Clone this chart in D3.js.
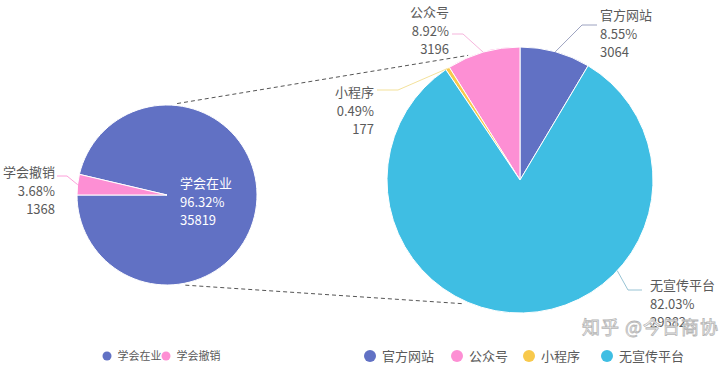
<!DOCTYPE html>
<html><head><meta charset="utf-8">
<script src="https://cdn.jsdelivr.net/npm/d3@7"></script>
<style>body{margin:0;background:#fff}svg{display:block}text{font-family:"Noto Sans CJK SC","Noto Sans",sans-serif}</style>
</head><body><svg id="c" width="720" height="365"></svg>
<script>
const leftCategories = ["学会在业", "学会撤销"];
const leftValues = [35819, 1368];
const leftPercents = ["96.32%", "3.68%"];
const rightCategories = ["官方网站", "公众号", "小程序", "无宣传平台"];
const rightValues = [3064, 3196, 177, 29382];
const rightPercents = ["8.55%", "8.92%", "0.49%", "82.03%"];
const rightDrawOrder = ["官方网站", "无宣传平台", "小程序", "公众号"];

const colors = {"学会在业":"#6171c4","学会撤销":"#fd8fd4","官方网站":"#6171c4","公众号":"#fd8fd4","小程序":"#f8c94c","无宣传平台":"#3fbee3"};
const textColor = "#5a5a5a";
const deg = Math.PI/180;
const svg = d3.select("#c");

// ---- left pie ----
const L = {cx:167, cy:195, r:90};
const lStart = -76.75*deg;
const lPie = d3.pie().sort(null).value(d=>d.v).startAngle(lStart).endAngle(lStart+2*Math.PI);
const lData = lPie(leftCategories.map((c,i)=>({c, v:leftValues[i], p:leftPercents[i]})));
const lArc = d3.arc().innerRadius(0).outerRadius(L.r);
const gL = svg.append("g").attr("transform",`translate(${L.cx},${L.cy})`);
gL.selectAll("path").data(lData).join("path").attr("d",lArc)
  .attr("fill",d=>colors[d.data.c]).attr("stroke","#fff").attr("stroke-width",1);

// ---- right pie ----
const R = {cx:520, cy:180, r:133};
const rPie = d3.pie().sort((a,b)=>rightDrawOrder.indexOf(a.c)-rightDrawOrder.indexOf(b.c)).value(d=>d.v);
const rData = rPie(rightCategories.map((c,i)=>({c, v:rightValues[i], p:rightPercents[i]})));
const rArc = d3.arc().innerRadius(0).outerRadius(R.r);
const gR = svg.append("g").attr("transform",`translate(${R.cx},${R.cy})`);
gR.selectAll("path").data(rData).join("path").attr("d",rArc)
  .attr("fill",d=>colors[d.data.c]).attr("stroke","#fff").attr("stroke-width",1);

// ---- connecting dashed lines ----
function pt(C, a, rr){ return [C.cx + rr*Math.sin(a), C.cy - rr*Math.cos(a)]; }
const conn = [[pt(L,6.3*deg,92), pt(R,-22.6*deg,135)], [pt(L,168.5*deg,92), pt(R,204.5*deg,136)]];
svg.selectAll("line.conn").data(conn).join("line").attr("class","conn")
  .attr("x1",d=>d[0][0]).attr("y1",d=>d[0][1]).attr("x2",d=>d[1][0]).attr("y2",d=>d[1][1])
  .attr("stroke","#555").attr("stroke-width",1).attr("stroke-dasharray","4,3");

// ---- labels ----
function mid(d){ return (d.startAngle+d.endAngle)/2; }
function drawLabel(C, d, elbow, endX, textX, anchor, baseY, color, angle){
  const s = pt(C, angle!==undefined ? angle : mid(d), C.r);
  svg.append("polyline").attr("points",[s, elbow, [endX, elbow[1]]].map(p=>p.join(",")).join(" "))
    .attr("fill","none").attr("stroke",color).attr("stroke-width",1).attr("opacity",0.85);
  const t = svg.append("text").attr("x",textX).attr("y",baseY).attr("text-anchor",anchor)
    .attr("font-size",13).attr("fill",textColor);
  [d.data.c, d.data.p, d.data.v].forEach((s,i)=>t.append("tspan").attr("x",textX).attr("dy",i?18.5:0).text(s));
}
const ld = Object.fromEntries(lData.map(d=>[d.data.c,d]));
const rd = Object.fromEntries(rData.map(d=>[d.data.c,d]));

drawLabel(L, ld["学会撤销"], [67,176], 57, 55, "end", 177, "#fd8fd4");
// inside label
(function(){
  const d = ld["学会在业"];
  const t = svg.append("text").attr("x",180).attr("y",188).attr("font-size",13).attr("fill","#fff");
  [d.data.c, d.data.p, d.data.v].forEach((s,i)=>t.append("tspan").attr("x",180).attr("dy",i?18.5:0).text(s));
})();
drawLabel(R, rd["官方网站"], [582,25], 597, 600, "start", 20, "#8c93b5");
drawLabel(R, rd["公众号"], [463,34], 452, 449, "end", 17, "#f3a8d6");
drawLabel(R, rd["小程序"], [398,90], 377, 374, "end", 97, "#f1dc8a");
drawLabel(R, rd["无宣传平台"], [628,290], 642, 650, "start", 290, "#86b9cc", 133*deg);

// ---- legends ----
function legend(items, x0, gaps, y, rad, fs){
  let x = x0;
  items.forEach((c,i)=>{
    svg.append("circle").attr("cx",x).attr("cy",y).attr("r",rad).attr("fill",colors[c]);
    svg.append("text").attr("x",x+rad+6).attr("y",y+fs*0.36).attr("font-size",fs).attr("fill",textColor).text(c);
    x += gaps[i]||0;
  });
}
legend(leftCategories, 107, [59], 356, 4.5, 11);
legend(rightCategories, 370, [87,72,78], 356, 6, 13);

// watermark
svg.append("text").attr("x",582).attr("y",334).attr("font-size",18).attr("letter-spacing",1)
  .attr("fill","rgba(255,255,255,0.85)").attr("stroke","#b5b5b5").attr("stroke-width",0.8).text("知乎 @今日商协");
</script></body></html>
